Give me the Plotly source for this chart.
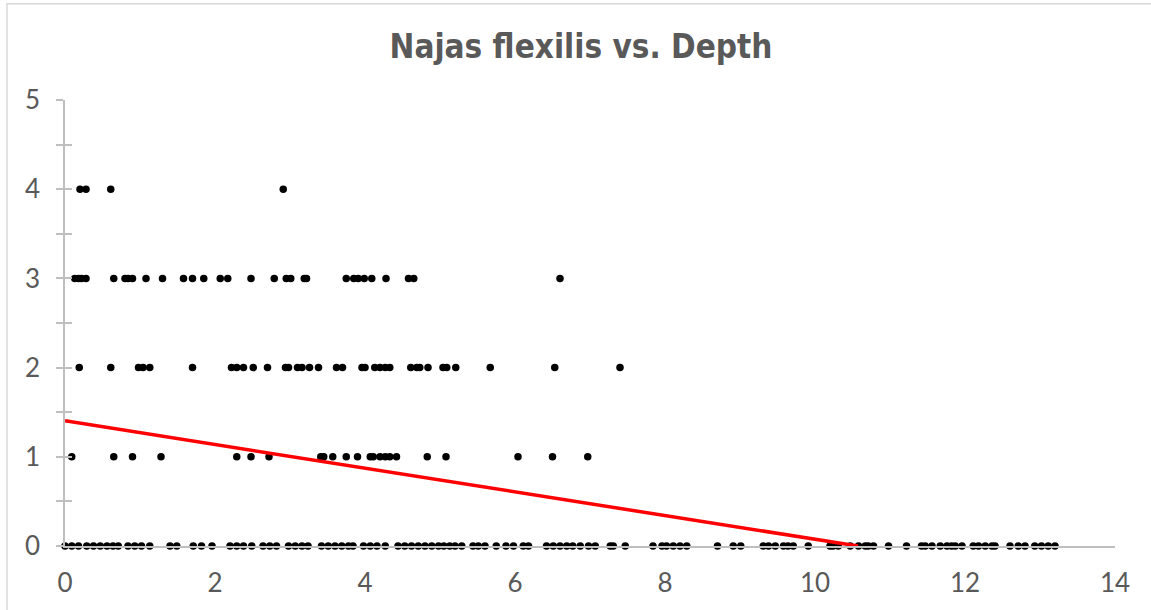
import plotly.graph_objects as go

# Depth (x) of each sampling point, grouped by Najas flexilis rake score (y)
depth_score0 = [0, 0.09, 0.18, 0.29, 0.38, 0.47, 0.56, 0.64, 0.71, 0.84, 0.93, 1.02, 1.13,
                1.40, 1.49, 1.71, 1.82, 1.96, 2.20, 2.29, 2.38, 2.49, 2.64, 2.73, 2.82,
                2.98, 3.07, 3.16, 3.24, 3.42, 3.51, 3.60, 3.69, 3.78, 3.84, 3.98, 4.07,
                4.16, 4.27, 4.44, 4.53, 4.62, 4.71, 4.80, 4.89, 4.98, 5.05, 5.13, 5.20,
                5.29, 5.44, 5.51, 5.60, 5.75, 5.88, 5.98, 6.11, 6.18, 6.42, 6.51, 6.60,
                6.69, 6.77, 6.87, 6.98, 7.07, 7.27, 7.31, 7.47, 7.84, 7.96, 8.02, 8.11,
                8.20, 8.29, 8.70, 8.91, 9.01, 9.31, 9.38, 9.47, 9.58, 9.64, 9.71, 9.91,
                10.20, 10.24, 10.31, 10.47, 10.58, 10.67, 10.71, 10.78, 10.98, 11.22,
                11.42, 11.47, 11.56, 11.67, 11.76, 11.82, 11.87, 11.96, 12.11, 12.18,
                12.27, 12.36, 12.40, 12.60, 12.71, 12.80, 12.93, 13.02, 13.11, 13.20]
depth_score1 = [0.09, 0.65, 0.90, 1.28, 2.29, 2.48, 2.72, 3.41, 3.45, 3.57, 3.75, 3.90,
                4.07, 4.11, 4.20, 4.27, 4.33, 4.42, 4.83, 5.08, 6.04, 6.50, 6.97]
depth_score2 = [0.19, 0.61, 0.98, 1.04, 1.13, 1.70, 2.22, 2.29, 2.38, 2.51, 2.70, 2.94,
                2.98, 3.10, 3.16, 3.26, 3.38, 3.62, 3.70, 3.96, 4.00, 4.13, 4.20, 4.27,
                4.33, 4.61, 4.69, 4.73, 4.84, 5.04, 5.09, 5.21, 5.67, 6.53, 7.40]
depth_score3 = [0.13, 0.18, 0.22, 0.28, 0.65, 0.80, 0.84, 0.90, 1.08, 1.30, 1.58, 1.70,
                1.85, 2.07, 2.17, 2.48, 2.79, 2.95, 3.01, 3.19, 3.22, 3.75, 3.85, 3.91,
                3.99, 4.09, 4.28, 4.58, 4.65, 6.60]
depth_score4 = [0.20, 0.28, 0.61, 2.91]

# Linear trendline
trend_intercept = 1.403
trend_slope = -0.1327
r_squared = 0.1552

groups = [(0, depth_score0), (1, depth_score1), (2, depth_score2),
          (3, depth_score3), (4, depth_score4)]
xs, ys = [], []
for score, depths in groups:
    xs += depths
    ys += [score] * len(depths)

TEXT = "#595959"
AXIS = "#bfbfbf"

fig = go.Figure()
fig.add_trace(go.Scatter(
    x=xs, y=ys, mode="markers",
    marker=dict(color="black", size=7.5, line=dict(width=0)),
    cliponaxis=False, showlegend=False, hoverinfo="x+y",
))

x_end = -trend_intercept / trend_slope
fig.add_trace(go.Scatter(
    x=[0, x_end], y=[trend_intercept, trend_intercept + trend_slope * x_end],
    mode="lines", line=dict(color="#ff0000", width=3.5),
    yaxis="y2", showlegend=False, hoverinfo="skip",
))

fig.update_layout(
    width=1151, height=610,
    margin=dict(l=65, r=36, t=100, b=61),
    paper_bgcolor="white", plot_bgcolor="white",
    title=dict(
        text="<b>Najas flexilis vs. Depth</b>",
        x=581 / 1151, xref="container", xanchor="center",
        y=1 - 46 / 610, yref="container", yanchor="middle",
        font=dict(family="DejaVu Sans Condensed, Liberation Sans, sans-serif",
                  size=33, color=TEXT),
    ),
    xaxis=dict(
        range=[0, 14], dtick=2, tick0=0,
        showline=True, linecolor=AXIS, linewidth=1.5,
        showgrid=False, zeroline=False, ticks="",
        tickfont=dict(family="Lato, sans-serif", size=26, color=TEXT),
        ticklabelstandoff=13,
    ),
    yaxis=dict(
        range=[0, 5], dtick=1, tick0=0,
        showline=True, linecolor=AXIS, linewidth=1.5,
        showgrid=False, zeroline=False,
        ticks="outside", ticklen=7, tickwidth=1.5, tickcolor=AXIS,
        minor=dict(dtick=0.5, ticks="outside", ticklen=7, tickwidth=1.5, tickcolor=AXIS),
        tickfont=dict(family="Lato, sans-serif", size=26, color=TEXT),
        ticklabelstandoff=11,
    ),
    yaxis2=dict(
        range=[0, 5], overlaying="y", side="left", dtick=1, tick0=0,
        showline=False, showgrid=False, zeroline=False, showticklabels=False,
        ticks="inside", ticklen=7, tickwidth=1.5, tickcolor=AXIS,
        minor=dict(dtick=0.5, ticks="inside", ticklen=7, tickwidth=1.5, tickcolor=AXIS),
    ),
    annotations=[dict(
        text=f"R² = {r_squared:.4f}", xref="x", yref="y",
        x=14.44, y=2.8, xanchor="right", yanchor="middle", showarrow=False,
        font=dict(family="Lato, sans-serif", size=19, color=TEXT),
    )],
    shapes=[dict(
        type="rect", xref="paper", yref="paper",
        x0=(7 - 65) / 1050, x1=1.2, y0=-0.3, y1=(549 - 3) / 449,
        line=dict(color="#d9d9d9", width=1.5), fillcolor="rgba(0,0,0,0)", layer="below",
    )],
)

fig.write_html("out.html")
